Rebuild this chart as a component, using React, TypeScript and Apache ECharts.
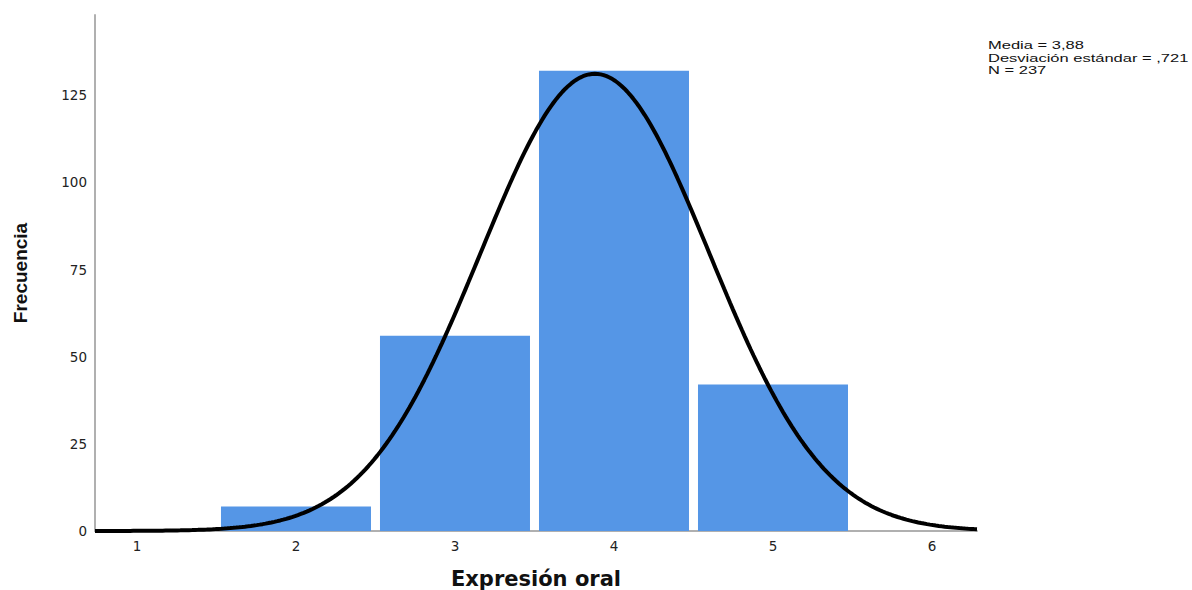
import React, { useEffect, useRef } from "react";
import * as echarts from "echarts";

const categories = [2, 3, 4, 5];
const frequencies = [7, 56, 132, 42];
const xTickLabels = [1, 2, 3, 4, 5, 6];
const yTickValues = [0, 25, 50, 75, 100, 125];
const statMean = 3.88;
const statSd = 0.721;
const statN = 237;
const statLines = ["Media = 3,88", "Desviación estándar = ,721", "N = 237"];

const X_MIN = 0.736;
const X_MAX = 6.283;

export default function App() {
  const ref = useRef<HTMLDivElement>(null);
  useEffect(() => {
    document.body.style.margin = "0";
    const chart = echarts.init(ref.current!, null, { renderer: "svg" });
    const curve: number[][] = [];
    const steps = 300;
    for (let i = 0; i <= steps; i++) {
      const x = X_MIN + ((X_MAX - X_MIN) * i) / steps;
      const z = (x - statMean) / statSd;
      const y = (statN / (statSd * Math.sqrt(2 * Math.PI))) * Math.exp(-0.5 * z * z);
      curve.push([x, y]);
    }
    const barData = categories.map((c, i) => [c, frequencies[i]]);
    chart.setOption({
      animation: false,
      backgroundColor: "#ffffff",
      grid: { left: 95, right: 215, top: 15, bottom: 59, outerBoundsMode: "none", containLabel: false },
      xAxis: {
        type: "value",
        min: X_MIN,
        max: X_MAX,
        name: "Expresión oral",
        nameLocation: "middle",
        nameGap: 37,
        nameTextStyle: { fontFamily: "DejaVu Sans", fontWeight: "bold", fontSize: 21, color: "#111" },
        axisLine: { show: true, onZero: false, lineStyle: { color: "#b0b0b0", width: 2 } },
        axisTick: { show: false },
        splitLine: { show: false },
        axisLabel: {
          customValues: xTickLabels,
          margin: 8,
          fontFamily: "DejaVu Sans",
          fontSize: 13.5,
          color: "#222",
        },
      },
      yAxis: {
        type: "value",
        min: 0,
        max: 148,
        interval: 25,
        name: "Frecuencia",
        nameLocation: "middle",
        nameGap: 65,
        nameRotate: 90,
        nameTextStyle: { fontFamily: "Liberation Sans", fontWeight: "bold", fontSize: 19, color: "#111" },
        axisLine: { show: true, lineStyle: { color: "#b0b0b0", width: 2 } },
        axisTick: { show: false },
        splitLine: { show: false },
        axisLabel: {
          customValues: yTickValues,
          margin: 8,
          fontFamily: "DejaVu Sans",
          fontSize: 13.5,
          color: "#222",
        },
      },
      graphic: statLines.map((t, i) => ({
        type: "text",
        x: 988,
        y: 45 + i * 12.6,
        scaleX: 1.5,
        style: {
          text: t,
          fontFamily: "Liberation Sans",
          fontSize: 11,
          fill: "#111",
          verticalAlign: "middle",
          align: "left",
        },
      })),
      series: [
        {
          type: "custom",
          data: barData,
          renderItem: (params: any, api: any) => {
            const x = api.value(0);
            const y = api.value(1);
            const p1 = api.coord([x - 0.5, y]);
            const p2 = api.coord([x + 0.5, 0]);
            const inset = 4.5;
            return {
              type: "rect",
              shape: { x: p1[0] + inset, y: p1[1], width: p2[0] - p1[0] - 2 * inset, height: p2[1] - p1[1] },
              style: { fill: "#5596E6" },
            };
          },
          z: 1,
        },
        {
          type: "line",
          data: curve,
          showSymbol: false,
          symbol: "none",
          lineStyle: { color: "#000", width: 4 },
          z: 5,
        },
      ],
    });
    return () => chart.dispose();
  }, []);
  return <div ref={ref} style={{ width: 1192, height: 590 }} />;
}
